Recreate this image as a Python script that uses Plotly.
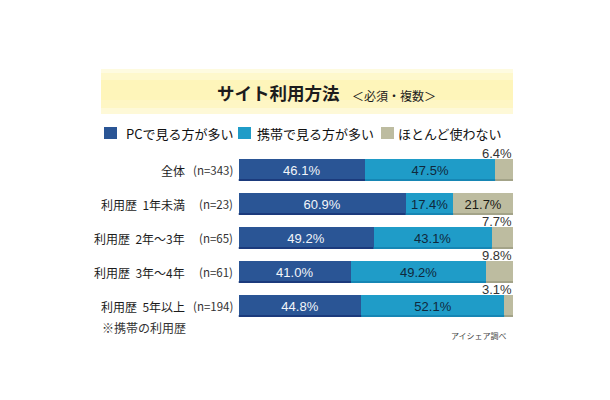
import plotly.graph_objects as go

categories = ["全体", "利用歴  1年未満", "利用歴  2年～3年", "利用歴  3年～4年", "利用歴  5年以上"]
counts = ["(n=343)", "(n=23)", "(n=65)", "(n=61)", "(n=194)"]
pc = [46.1, 60.9, 49.2, 41.0, 44.8]
mobile = [47.5, 17.4, 43.1, 49.2, 52.1]
unused = [6.4, 21.7, 7.7, 9.8, 3.1]

W, H = 610, 400
JP = "Noto Sans CJK JP"
NUM = "Liberation Sans"


def px(x):
    return x / W


def py(y):
    return 1 - y / H


fig = go.Figure()
series = [
    ("PCで見る方が多い", pc, "#2a5595", "#1b3a7c", "#f2f5fa"),
    ("携帯で見る方が多い", mobile, "#1f9cc8", "#1686b4", "#10283c"),
    ("ほとんど使わない", unused, "#bdbca0", "#a3a388", "#1a1a14"),
]
for name, vals, color, edge, tcolor in series:
    # small segments get their label above the bar instead
    text = [f"{v:.1f}%" if v >= 15 else "" for v in vals]
    fig.add_trace(go.Bar(
        name=name, y=categories, x=vals, orientation="h",
        marker=dict(color=color, line=dict(width=0)),
        text=text, textposition="inside", insidetextanchor="middle",
        textangle=0, constraintext="none",
        textfont=dict(family=NUM, size=13, color=tcolor),
        hoverinfo="skip",
    ))

# darker lower edge on each segment
for i, cat in enumerate(categories):
    left = 0
    for name, vals, color, edge, tcolor in series:
        fig.add_shape(type="rect", xref="x", yref="y", ysizemode="pixel",
                      yanchor=cat, x0=left, x1=left + vals[i], y0=-11, y1=-9,
                      fillcolor=edge, line_width=0)
        left += vals[i]

# title band, stepped to fake the soft gradient
band = [(69, 73, "#fefbe0"), (73, 80, "#fef8cc"), (80, 100, "#fef5ba"),
        (100, 108, "#fef6c4"), (108, 114, "#fef9d8")]
for top, bottom, c in band:
    fig.add_shape(type="rect", xref="paper", yref="paper", layer="below",
                  x0=px(101), x1=px(513), y0=py(bottom), y1=py(top),
                  fillcolor=c, line_width=0)


def note(x, y, text, size, anchor="left", family=JP, color="#1c1c1c"):
    fig.add_annotation(x=px(x), y=py(y), xref="paper", yref="paper", text=text,
                       showarrow=False, xanchor=anchor, yanchor="middle",
                       font=dict(family=family, size=size, color=color))


note(215, 92, "<b>サイト利用方法</b>", 17.5)
note(350, 95, "＜必須・複数＞", 12)
note(100, 327, "※携帯の利用歴", 12, color="#333333")
note(449, 335, "アイシェア調べ", 8, color="#444444")

# legend row, spaced by hand like the original
swatch_x = [104, 238, 381]
label_x = [124, 255, 396]
for (name, vals, color, edge, tcolor), sx, lx in zip(series, swatch_x, label_x):
    fig.add_shape(type="rect", xref="paper", yref="paper",
                  x0=px(sx), x1=px(sx + 13), y0=py(139), y1=py(127),
                  fillcolor=color, line_width=0)
    note(lx, 133, name, 13, color="#111111")

for i, cat in enumerate(categories):
    fig.add_annotation(x=px(187), y=cat, xref="paper", yref="y", text=cat,
                       showarrow=False, xanchor="right", yanchor="middle",
                       font=dict(family=JP, size=12, color="#1c1c1c"))
    fig.add_annotation(x=px(235), y=cat, xref="paper", yref="y", text=counts[i],
                       showarrow=False, xanchor="right", yanchor="middle",
                       font=dict(family=JP, size=11.5, color="#333333"))
    if unused[i] < 15:
        fig.add_annotation(x=px(514), y=cat, xref="paper", yref="y", yshift=17,
                           text=f"{unused[i]:.1f}%", showarrow=False,
                           xanchor="right", yanchor="middle",
                           font=dict(family=NUM, size=13, color="#333333"))

fig.update_layout(
    width=W, height=H, margin=dict(l=0, r=0, t=0, b=0),
    barmode="stack", bargap=12 / 34,
    paper_bgcolor="white", plot_bgcolor="white",
    xaxis=dict(domain=[px(238.5), px(513)], range=[0, 100], visible=False),
    yaxis=dict(domain=[py(323), py(153)], range=[4.5, -0.5], visible=False),
    showlegend=False,
)
fig.write_html("out.html", config={"displayModeBar": False},
               post_script="document.body.style.margin='0';")
